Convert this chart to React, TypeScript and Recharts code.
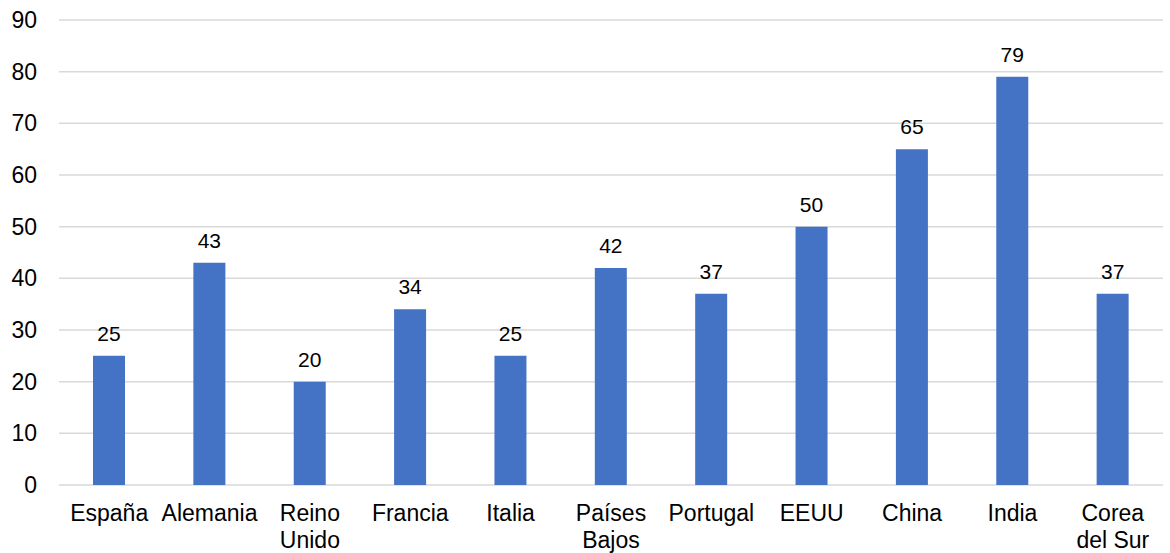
import * as React from "react";
import { Bar, BarChart, CartesianGrid, LabelList, XAxis, YAxis } from "recharts";

const COUNTRIES = [
  "España",
  "Alemania",
  "Reino Unido",
  "Francia",
  "Italia",
  "Países Bajos",
  "Portugal",
  "EEUU",
  "China",
  "India",
  "Corea del Sur",
];
const VALUES = [25, 43, 20, 34, 25, 42, 37, 50, 65, 79, 37];
const Y_TICKS = [0, 10, 20, 30, 40, 50, 60, 70, 80, 90];

const BAR_COLOR = "#4472C4";
const GRID_COLOR = "#d9d9d9";
const FONT = "'Liberation Sans', Arial, sans-serif";
const TICK_SIZE = 23;
const WRAP_WIDTH = 90;

const data = COUNTRIES.map((name, i) => ({ name, value: VALUES[i] }));

let ctx: CanvasRenderingContext2D | null = null;
function measure(s: string) {
  if (!ctx) ctx = document.createElement("canvas").getContext("2d");
  if (!ctx) return s.length * TICK_SIZE * 0.55;
  ctx.font = `${TICK_SIZE}px ${FONT}`;
  return ctx.measureText(s).width;
}

// greedy word wrap, like Excel does for category labels that don't fit the band
function wrap(label: string) {
  const lines: string[] = [];
  let cur = "";
  for (const w of label.split(" ")) {
    const next = cur ? cur + " " + w : w;
    if (cur && measure(next) > WRAP_WIDTH) {
      lines.push(cur);
      cur = w;
    } else {
      cur = next;
    }
  }
  if (cur) lines.push(cur);
  return lines;
}

function CountryTick(props: any) {
  const { x, y, payload } = props;
  const lines = wrap(String(payload.value));
  return (
    <text
      x={x}
      y={y}
      textAnchor="middle"
      fontSize={TICK_SIZE}
      fontFamily={FONT}
      fill="#000"
    >
      {lines.map((l, i) => (
        <tspan key={i} x={x} dy={i === 0 ? "0.716em" : 26.5}>
          {l}
        </tspan>
      ))}
    </text>
  );
}

export default function App() {
  return (
    <div style={{ position: "absolute", left: 0, top: 0, background: "#fff" }}>
      <BarChart
        width={1170}
        height={553}
        data={data}
        margin={{ top: 20, right: 7, bottom: 0, left: 0 }}
        barSize={32}
      >
        <CartesianGrid vertical={false} stroke={GRID_COLOR} strokeWidth={1.5} />
        <XAxis
          dataKey="name"
          interval={0}
          height={68}
          axisLine={false}
          tickLine={false}
          tickSize={0}
          tickMargin={20}
          tick={<CountryTick />}
        />
        <YAxis
          domain={[0, 90]}
          ticks={Y_TICKS}
          width={59}
          axisLine={false}
          tickLine={false}
          tickSize={0}
          tickMargin={22}
          tick={{ fontSize: TICK_SIZE, fill: "#000", fontFamily: FONT }}
        />
        <Bar dataKey="value" fill={BAR_COLOR} isAnimationActive={false}>
          <LabelList
            dataKey="value"
            position="top"
            offset={15}
            fill="#000"
            fontSize={21}
            fontFamily={FONT}
          />
        </Bar>
      </BarChart>
    </div>
  );
}
